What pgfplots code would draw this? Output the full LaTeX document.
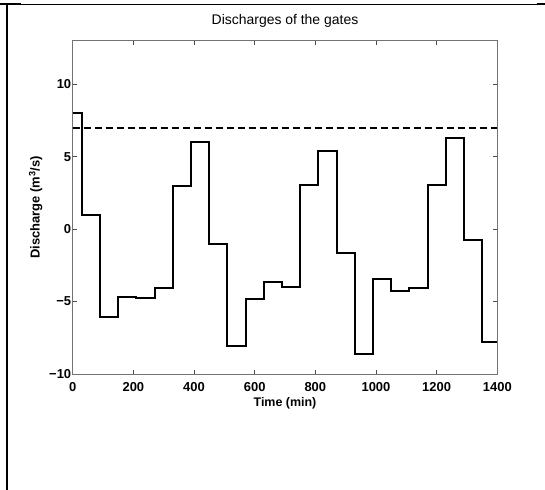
\documentclass[border=0pt]{standalone}
\usepackage{pgfplots}
\pgfplotsset{compat=1.18}
\usepackage{fontspec}
\setmainfont{Liberation Sans}
\begin{document}
\begin{tikzpicture}
\useasboundingbox (0bp,0bp) rectangle (545bp,490bp);
\draw[line width=2.2bp] (7bp,0bp) -- (7bp,487bp);
\draw[line width=0.9bp] (0bp,486bp) -- (545bp,486bp);
\draw[line width=2bp] (0bp,486bp) -- (21bp,486bp);
\draw[line width=2bp] (537bp,486bp) -- (545bp,486bp);
\begin{axis}[
  at={(72.7bp,116bp)}, anchor=south west,
  width=424.6bp, height=333.3bp, scale only axis,
  xmin=0, xmax=1400, ymin=-10, ymax=13,
  xtick={0,200,400,600,800,1000,1200,1400},
  xticklabels={0,200,400,600,800,1000,1200,1400},
  ytick={-10,-5,0,5,10},
  yticklabels={−10,−5,0,5,10},
  tick align=inside, major tick length=4bp,
  axis line style={black!55, line width=0.6bp},
  tick style={black!70, line width=0.6bp},
  ticklabel style={font=\fontsize{13}{15}\selectfont\bfseries},
  xticklabel style={yshift=-4.5bp},
  yticklabel style={xshift=2bp},
  title={Discharges of the gates},
  title style={font=\fontsize{14}{16}\selectfont, at={(axis description cs:0.5,1)}, anchor=base, yshift=10bp},
  xlabel={Time (min)},
  xlabel style={font=\fontsize{12.5}{14}\selectfont\bfseries, at={(axis description cs:0.5,0)}, anchor=base, yshift=-33bp},
  ylabel={Discharge (m\textsuperscript{3}/s)},
  ylabel style={font=\fontsize{13}{15}\selectfont\bfseries, at={(axis description cs:-0.063,0.5)}, anchor=south},
]
\addplot[const plot, black, line width=2bp] coordinates {
(0,8)(30,1)(90,-6.1)(150,-4.7)(210,-4.75)(270,-4.05)(330,3)(390,6)(450,-1)
(510,-8.05)(570,-4.85)(630,-3.63)(690,-4.02)(750,3.02)(810,5.38)(870,-1.63)
(930,-8.62)(990,-3.47)(1050,-4.25)(1110,-4.05)(1170,3.03)(1230,6.3)(1290,-0.76)
(1350,-7.8)(1400,-7.8)};
\addplot[black, line width=2bp, dash pattern=on 7bp off 4bp] coordinates {(0,7)(1400,7)};
\end{axis}
\end{tikzpicture}
\end{document}
